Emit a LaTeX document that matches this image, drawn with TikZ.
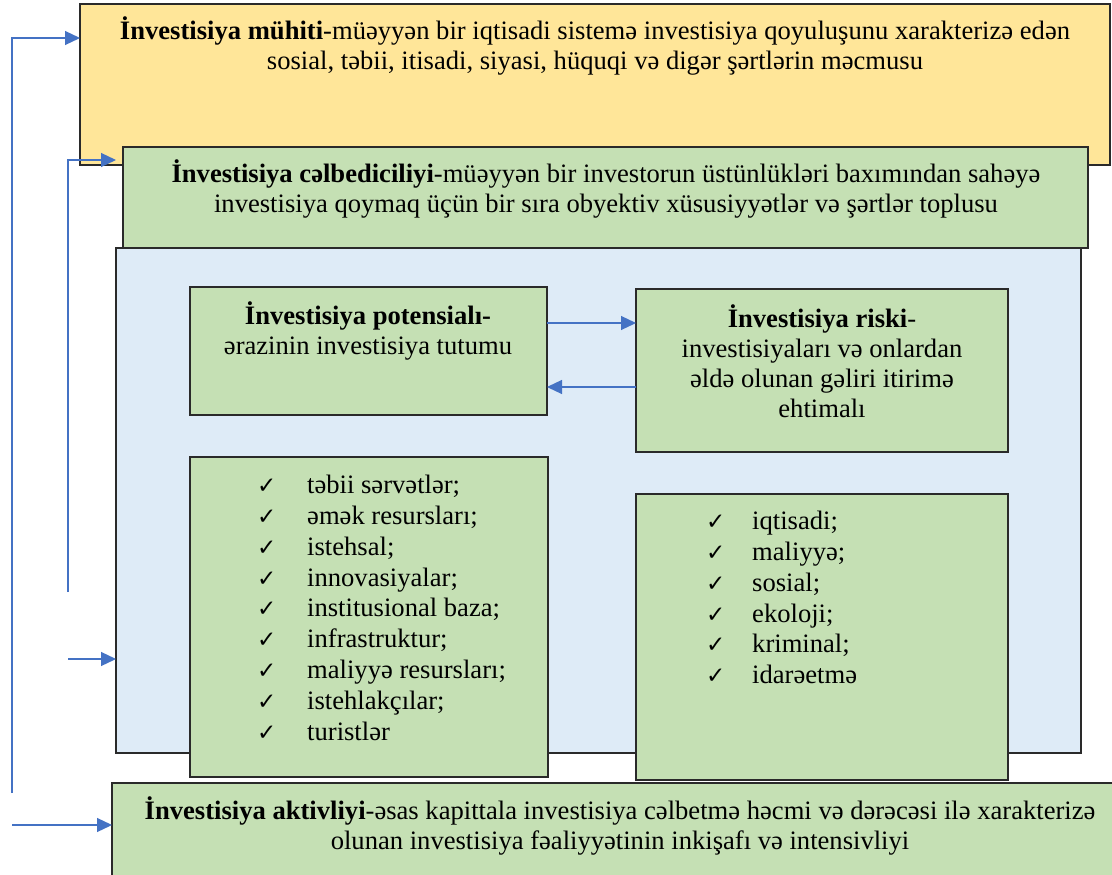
\documentclass[tikz,border=0pt]{standalone}
\usepackage{fontspec}
\setmainfont{Liberation Serif}
\newfontfamily\ckfont{DejaVu Sans}
\usetikzlibrary{arrows.meta,calc}
\definecolor{yel}{HTML}{FFE699}
\definecolor{grn}{HTML}{C5E0B4}
\definecolor{lblue}{HTML}{DEEBF7}
\definecolor{arrblue}{HTML}{4472C4}
\definecolor{edge}{HTML}{2A2A2A}
\newcommand{\ckl}{\makebox[50pt][l]{\ckfont\fontsize{23}{30}\selectfont ✓}}
\newcommand{\ckr}{\makebox[46pt][l]{\ckfont\fontsize{23}{30}\selectfont ✓}}
\tikzset{
  box/.style={draw=edge, line width=1.3pt, inner sep=0pt, outer sep=0pt, anchor=north west},
  txt/.style={inner sep=0pt, anchor=north, align=center, font=\fontsize{26.6}{30}\selectfont},
  lst/.style={inner sep=0pt, anchor=north west, align=left, font=\fontsize{26.6}{30.8}\selectfont},
  arr/.style={draw=arrblue, line width=1.2pt, -{Triangle[length=15pt,width=14pt]}}
}
\begin{document}
\begin{tikzpicture}[x=1pt,y=-1pt]
\useasboundingbox[fill=white] (0,0) rectangle (1112,875);
% boxes
\node[box, fill=yel, minimum width=1030pt, minimum height=161pt] (muhit) at (80,4) {};
\node[box, fill=lblue, minimum width=965pt, minimum height=505pt] (blue) at (116,248) {};
\node[box, fill=grn, minimum width=965pt, minimum height=101pt] (celb) at (123,147) {};
\node[box, fill=grn, minimum width=357pt, minimum height=128pt] (pot) at (190,287) {};
\node[box, fill=grn, minimum width=372pt, minimum height=163pt] (risk) at (636,289) {};
\node[box, fill=grn, minimum width=358pt, minimum height=320pt] (lleft) at (190,457) {};
\node[box, fill=grn, minimum width=372pt, minimum height=286pt] (lright) at (636,494) {};
\node[box, fill=grn, minimum width=1010pt, minimum height=102pt] (akt) at (112,783) {};
% texts
\node[txt] (muhitT) at (595,17) {\strut\textbf{İnvestisiya mühiti}-müəyyən bir iqtisadi sistemə investisiya qoyuluşunu xarakterizə edən\\sosial, təbii, itisadi, siyasi, hüquqi və digər şərtlərin məcmusu};
\node[txt] (celbT) at (606,160) {\strut\textbf{İnvestisiya cəlbediciliyi}-müəyyən bir investorun üstünlükləri baxımından sahəyə\\investisiya qoymaq üçün bir sıra obyektiv xüsusiyyətlər və şərtlər toplusu};
\node[txt] (potT) at (368,302) {\strut\textbf{İnvestisiya potensialı-}\\ərazinin investisiya tutumu};
\node[txt] (riskT) at (822,305) {\strut\textbf{İnvestisiya riski}-\\investisiyaları və onlardan\\əldə olunan gəliri itirimə\\ehtimalı};
\node[lst] (lleftT) at (257,472) {\strut\ckl təbii sərvətlər;\\\ckl əmək resursları;\\\ckl istehsal;\\\ckl innovasiyalar;\\\ckl institusional baza;\\\ckl infrastruktur;\\\ckl maliyyə resursları;\\\ckl istehlakçılar;\\\ckl turistlər};
\node[lst] (lrightT) at (706,508) {\strut\ckr iqtisadi;\\\ckr maliyyə;\\\ckr sosial;\\\ckr ekoloji;\\\ckr kriminal;\\\ckr idarəetmə};
\node[txt] (aktT) at (620,796) {\strut\textbf{İnvestisiya aktivliyi}-əsas kapittala investisiya cəlbetmə həcmi və dərəcəsi ilə xarakterizə\\olunan investisiya fəaliyyətinin inkişafı və intensivliyi};
% connectors
\coordinate (o1) at (12,793);
\coordinate (o2) at (12,38);
\coordinate (o3) at (12,825);
\coordinate (i1) at (68,592);
\coordinate (i2) at (68,160);
\coordinate (i3) at (68,659);
\draw[arr] (o1) -- (o2) -- (o2 -| muhit.west);
\draw[arr, shorten >=7pt] (i1) -- (i2) -- (i2 -| celb.west);
\draw[arr] (i3) -- (i3 -| blue.west);
\draw[arr] (o3) -- (o3 -| akt.west);
\coordinate (p1) at ($(pot.north east)+(0,36)$);
\coordinate (p2) at ($(pot.south east)+(0,-28)$);
\draw[arr] (p1) -- (p1 -| risk.west);
\draw[arr] (p2 -| risk.west) -- (p2);
\end{tikzpicture}
\end{document}
